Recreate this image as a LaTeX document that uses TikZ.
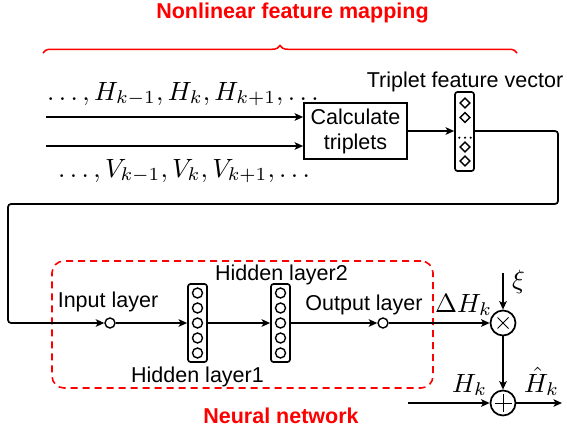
\documentclass[tikz,border=0pt]{standalone}
\usepackage[no-math]{fontspec}
\setmainfont{Liberation Sans}
\usetikzlibrary{arrows.meta,decorations.pathreplacing,shapes.geometric}

% math set at 10pt design size and enlarged
\newcommand{\bigmath}[1]{\scalebox{2.64}{\fontsize{10}{12}\selectfont$#1$}}

\begin{document}
\begin{tikzpicture}[x=1pt,y=-1pt,
  every node/.style={font=\fontsize{21.5}{25}\selectfont},
  conn/.style={line width=1.7pt,-{Stealth[length=8.5pt,width=7.5pt,inset=2pt]}},
  lbl/.style={anchor=base,inner sep=0pt},
  mathlbl/.style={anchor=base west,inner sep=0pt},
  ttl/.style={anchor=base,inner sep=0pt,text=red,font=\fontsize{21.5}{25}\selectfont\bfseries},
  neuron/.style={circle,draw,line width=1.4pt,minimum size=10pt,inner sep=0pt},
  layerbox/.style={draw,line width=1.7pt,rounded corners=2.5pt,minimum width=19pt,minimum height=78pt,inner sep=0pt},
  featdiam/.style={diamond,draw,line width=1.4pt,minimum size=10.5pt,inner sep=0pt},
  opnode/.style={circle,draw,line width=1.7pt,minimum size=25pt,inner sep=0pt},
  nnbox/.style={draw=red,dashed,dash pattern=on 7pt off 5pt,line width=1.6pt,rounded corners=12pt,inner sep=0pt},
]
\useasboundingbox (0,0) rectangle (567,431);

% ---- nonlinear feature mapping ----
\node[ttl] (title) at (292.5,18) {Nonlinear feature mapping};
\draw[red,line width=1.5pt,decorate,decoration={brace,amplitude=7.5pt}] (43,53) -- (517,53);

\node[mathlbl] (hseq) at (47,100) {\bigmath{\ldots,H_{k-1},H_k,H_{k+1},\ldots}};
\node[mathlbl] (vseq) at (58,177) {\bigmath{\ldots,V_{k-1},V_k,V_{k+1},\ldots}};

\node[draw,line width=1.7pt,minimum width=103pt,minimum height=56pt,align=center,inner sep=0pt]
  (calc) at (355.5,131) {Calculate\\triplets};

\coordinate (hs) at (46,117);
\coordinate (vs) at (46,146);
\draw[conn] (hs) -- (calc.west |- hs);
\draw[conn] (vs) -- (calc.west |- vs);

% triplet feature vector
\node[layerbox,minimum height=79pt] (vec) at (464.5,131.5) {};
\node[featdiam] (d1) at (465,103) {};
\node[featdiam] (d2) at (465,117.5) {};
\node[featdiam] (d3) at (465,147) {};
\node[featdiam] (d4) at (465,161) {};
\foreach \x in {459.3,465,470.7} \fill (\x,137.7) circle (1.2pt);
\node[lbl] (tfv) at (465,87) {Triplet feature vector};

\draw[conn] (calc.east) -- (calc.east -| vec.west);

% ---- neural network ----
\node[nnbox,minimum width=381pt,minimum height=127pt] (nn) at (242.5,324.5) {};
\node[ttl] (nntitle) at (281,423) {Neural network};

\node[neuron] (inp) at (110,323) {};
\node[layerbox] (h1) at (197.5,323) {};
\node[layerbox] (h2) at (280.5,323) {};
\foreach \i/\dy in {1/-30,2/-15,3/0,4/15,5/30} {
  \node[neuron] (h1n\i) at (197.5,323+\dy) {};
  \node[neuron] (h2n\i) at (280.5,323+\dy) {};
}
\node[neuron] (out) at (383,323) {};

\node[lbl] (linp) at (108,307) {Input layer};
\node[lbl] (lh1) at (197.5,382) {Hidden layer1};
\node[lbl] (lh2) at (281.5,280) {Hidden layer2};
\node[lbl] (lout) at (364,310) {Output layer};

% feedback from the feature vector into the input layer
\coordinate (fr) at (558,204);
\coordinate (fl) at (8,204);
\draw[conn,rounded corners=3pt] (calc.east -| vec.east) -| (fr) -- (fl) |- (inp.west);

\draw[conn] (inp.east) -- (h1.west);
\draw[conn] (h1.east) -- (h2.west);
\draw[conn] (h2.east) -- (out.west);

% ---- output stage ----
\node[opnode] (mul) at (503,323) {};
\node[opnode] (add) at (503,403) {};
\draw[line width=0.9pt] (mul.center) +(-5.5,-5.5) -- +(5.5,5.5) (mul.center) +(-5.5,5.5) -- +(5.5,-5.5);
\draw[line width=0.9pt] (add.center) +(-8.5,0) -- +(8.5,0) (add.center) +(0,-9) -- +(0,9);

\draw[conn] (out.east) -- (mul.west);
\coordinate (xitop) at (503,273);
\coordinate (hin) at (408,403);
\coordinate (hout) at (562,403);
\draw[conn] (xitop) -- (mul.north);
\draw[conn] (mul.south) -- (add.north);
\draw[conn] (hin) -- (add.west);
\draw[conn] (add.east) -- (hout);

\node[mathlbl] (ldh) at (435,312) {\bigmath{\Delta H_k}};
\node[mathlbl] (lxi) at (512,288) {\bigmath{\xi}};
\node[mathlbl] (lhk) at (452,392) {\bigmath{H_k}};
\node[mathlbl] (lhhat) at (524,392) {\bigmath{\hat{H}_k}};
\end{tikzpicture}
\end{document}
